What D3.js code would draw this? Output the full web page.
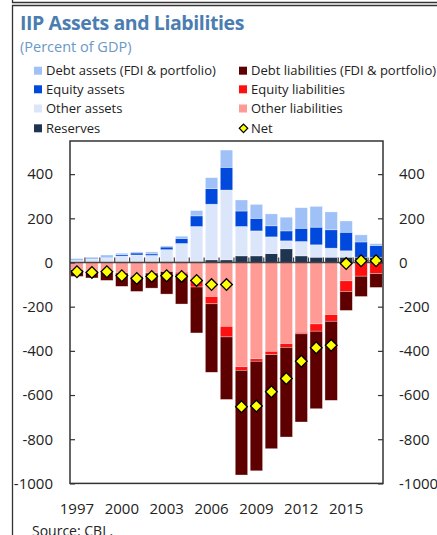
<!DOCTYPE html>
<html>
<head>
<meta charset="utf-8">
<script src="https://cdn.jsdelivr.net/npm/d3@7"></script>
<style>
  html, body { margin: 0; padding: 0; background: #fff; }
  svg { display: block; font-family: "Open Sans", "Noto Sans", sans-serif; }
</style>
</head>
<body>
<svg id="chart" width="437" height="535"></svg>
<script>
// International investment position, percent of GDP
const years = [1997, 1998, 1999, 2000, 2001, 2002, 2003, 2004, 2005, 2006, 2007,
               2008, 2009, 2010, 2011, 2012, 2013, 2014, 2015, 2016, 2017];

// Assets (stacked upward from zero: reserves, other, equity, debt)
const reserves     = [3, 3, 3, 4, 4, 4, 5, 5, 5, 12, 12, 30, 30, 40, 62, 30, 24, 24, 24, 24, 24];
const otherAssets  = [5, 11, 18, 25, 30, 28, 53, 81, 158, 252, 316, 133, 113, 76, 36, 65, 56, 41, 29, 0, 0];
const equityAssets = [0, 0, 0, 6, 9, 7, 12, 23, 48, 70, 103, 70, 57, 50, 45, 60, 80, 83, 84, 69, 53];
const debtAssets   = [10, 10, 13, 7, 5, 9, 5, 10, 24, 50, 78, 50, 63, 54, 62, 93, 94, 81, 51, 32, 8];

// Liabilities (stacked downward from zero: other, equity, debt)
const otherLiab  = [-33, -40, -46, -48, -58, -48, -41, -44, -78, -154, -289, -472, -436, -402, -367, -316, -278, -236, -83, 0, 0];
const equityLiab = [0, 0, 0, 0, -5, 0, 0, -8, -33, -33, -48, -16, -11, -15, -17, -7, -33, -30, -48, -62, -50];
const debtLiab   = [-30, -30, -35, -60, -68, -68, -102, -136, -208, -310, -283, -474, -496, -426, -406, -399, -351, -358, -86, -92, -63];

// Net IIP
const net = [-42, -45, -42, -60, -72, -63, -60, -63, -81, -100, -100, -653, -650, -585, -525, -447, -386, -375, -5, 8, 8];

const yTicks = [-1000, -800, -600, -400, -200, 0, 200, 400];
const xLabelYears = [1997, 2000, 2003, 2006, 2009, 2012, 2015];

const assetSeries = [
  { key: "Reserves", values: reserves, color: "#1f3450" },
  { key: "Other assets", values: otherAssets, color: "#dce6fb" },
  { key: "Equity assets", values: equityAssets, color: "#0049dc" },
  { key: "Debt assets (FDI & portfolio)", values: debtAssets, color: "#a0c0f8" }
];
const liabSeries = [
  { key: "Other liabilities", values: otherLiab, color: "#ff9a95" },
  { key: "Equity liabilities", values: equityLiab, color: "#ff1010" },
  { key: "Debt liabilities (FDI & portfolio)", values: debtLiab, color: "#5e0000" }
];

const svg = d3.select("#chart");
const axisColor = "#333";
const textColor = "#222";

// Plot frame geometry
const plotLeft = 70, plotRight = 383, plotTop = 141, plotBottom = 483.4;

const x = d3.scaleBand().domain(years).range([plotLeft, plotRight]).paddingInner(0.17).paddingOuter(0.05);
const y = d3.scaleLinear().domain([-1000, 550]).range([plotBottom, plotTop]);

// Outer panel borders
svg.append("path").attr("d", "M12.5,0V2.5H437").attr("fill", "none").attr("stroke", axisColor).attr("stroke-width", 1.3);
svg.append("path").attr("d", "M437,5.5H12.5V535").attr("fill", "none").attr("stroke", axisColor).attr("stroke-width", 1.3);

// Title and subtitle
svg.append("text").attr("x", 20).attr("y", 30)
  .attr("font-size", 19.5).attr("font-weight", "bold").attr("fill", "#4a7db0")
  .attr("letter-spacing", -0.4)
  .text("IIP Assets and Liabilities");
svg.append("text").attr("x", 20).attr("y", 51.5)
  .attr("font-size", 14.5).attr("fill", "#6a98c8")
  .text("(Percent of GDP)");

// Legend
const legendItems = [
  { key: "Debt assets (FDI & portfolio)", color: "#a0c0f8", col: 0, row: 0 },
  { key: "Equity assets", color: "#0049dc", col: 0, row: 1 },
  { key: "Other assets", color: "#dce6fb", col: 0, row: 2 },
  { key: "Reserves", color: "#1f3450", col: 0, row: 3 },
  { key: "Debt liabilities (FDI & portfolio)", color: "#5e0000", col: 1, row: 0 },
  { key: "Equity liabilities", color: "#ff1010", col: 1, row: 1 },
  { key: "Other liabilities", color: "#ff9a95", col: 1, row: 2 },
  { key: "Net", color: "#ffff00", col: 1, row: 3, diamond: true }
];
const rowY = [70.7, 89.3, 108.5, 128.3];
const colX = [34, 239];
const legend = svg.append("g");
legendItems.forEach(d => {
  const g = legend.append("g").attr("transform", `translate(${colX[d.col]},${rowY[d.row]})`);
  if (d.diamond) {
    g.append("path")
      .attr("d", d3.symbol(d3.symbolSquare, 36)())
      .attr("transform", "translate(4.5,0) rotate(45)")
      .attr("fill", d.color).attr("stroke", "#000").attr("stroke-width", 1.2);
  } else {
    g.append("rect").attr("x", 0).attr("y", -4).attr("width", 8).attr("height", 8).attr("fill", d.color);
  }
  g.append("text").attr("x", 12).attr("y", 0).attr("dy", "0.35em")
    .attr("font-size", 13).attr("fill", textColor).text(d.key);
});

// Stacked bars
function stackSegments(series) {
  const segs = [];
  years.forEach((yr, i) => {
    let base = 0;
    series.forEach(s => {
      const v = s.values[i];
      segs.push({ year: yr, y0: base, y1: base + v, color: s.color });
      base += v;
    });
  });
  return segs.filter(d => d.y0 !== d.y1);
}

const bars = svg.append("g");
bars.selectAll("rect.seg")
  .data(stackSegments(assetSeries).concat(stackSegments(liabSeries)))
  .join("rect")
  .attr("class", "seg")
  .attr("x", d => x(d.year))
  .attr("width", x.bandwidth())
  .attr("y", d => y(Math.max(d.y0, d.y1)))
  .attr("height", d => Math.abs(y(d.y0) - y(d.y1)))
  .attr("fill", d => d.color)
  .attr("stroke", "rgba(255,255,255,0.55)")
  .attr("stroke-width", 0.6);

// Zero line with category boundary ticks
const zeroY = y(0);
svg.append("line").attr("x1", plotLeft).attr("x2", plotRight).attr("y1", zeroY).attr("y2", zeroY)
  .attr("stroke", "#444").attr("stroke-width", 1.6);
svg.append("g").selectAll("line")
  .data(d3.range(1, years.length))
  .join("line")
  .attr("x1", i => plotLeft + i * (plotRight - plotLeft) / years.length)
  .attr("x2", i => plotLeft + i * (plotRight - plotLeft) / years.length)
  .attr("y1", zeroY).attr("y2", zeroY - 5)
  .attr("stroke", "#444").attr("stroke-width", 1.2);

// Net markers
svg.append("g").selectAll("path")
  .data(years.map((yr, i) => ({ year: yr, v: net[i] })))
  .join("path")
  .attr("d", d3.symbol(d3.symbolSquare, 68)())
  .attr("transform", d => `translate(${x(d.year) + x.bandwidth() / 2},${y(d.v)}) rotate(45)`)
  .attr("fill", "#ffff00").attr("stroke", "#000").attr("stroke-width", 1.3);

// Axes (plain hyphen minus, no thousands separator)
const fmt = d => String(d);
const leftAxis = d3.axisLeft(y).tickValues(yTicks).tickFormat(fmt).tickSize(-5).tickPadding(17);
const rightAxis = d3.axisRight(y).tickValues(yTicks).tickFormat(fmt).tickSize(-5).tickPadding(16);
const gl = svg.append("g").attr("transform", `translate(${plotLeft},0)`).call(leftAxis);
const gr = svg.append("g").attr("transform", `translate(${plotRight},0)`).call(rightAxis);
[gl, gr].forEach(g => {
  g.select(".domain").remove();
  g.selectAll(".tick line").attr("stroke", axisColor).attr("stroke-width", 1.2);
  g.selectAll(".tick text").attr("font-size", 15).attr("fill", textColor)
    .attr("font-family", "'Open Sans', 'Noto Sans', sans-serif");
});

const bottomAxis = d3.axisBottom(x).tickValues(xLabelYears).tickSize(0).tickPadding(20);
const gb = svg.append("g").attr("transform", `translate(0,${plotBottom})`).call(bottomAxis);
gb.select(".domain").remove();
gb.selectAll(".tick text").attr("font-size", 15).attr("fill", textColor)
  .attr("font-family", "'Open Sans', 'Noto Sans', sans-serif");

// Plot frame
svg.append("rect").attr("x", plotLeft).attr("y", plotTop)
  .attr("width", plotRight - plotLeft).attr("height", plotBottom - plotTop)
  .attr("fill", "none").attr("stroke", axisColor).attr("stroke-width", 1.5);

// Source note
svg.append("text").attr("x", 32).attr("y", 535.5).attr("font-size", 14).attr("fill", textColor)
  .text("Source: CBL.");
</script>
</body>
</html>
